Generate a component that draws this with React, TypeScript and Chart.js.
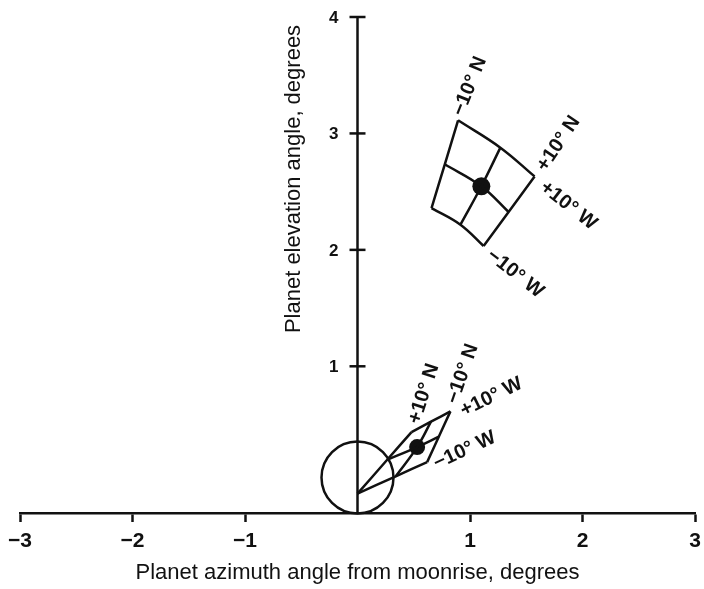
import React, { useEffect, useRef } from "react";
import { Chart, registerables } from "chart.js";

Chart.register(...registerables);

// ---- axes ----
const xRange = [-3, 3];
const yRange = [-0.26, 4];
const xTicks = [-3, -2, -1, 0, 1, 2, 3];
const yTicks = [1, 2, 3, 4];
const xTitle = "Planet azimuth angle from moonrise, degrees";
const yTitle = "Planet elevation angle, degrees";

// ---- moon disc (degrees) ----
const moonCenter = [0, 0.045];
const moonRadius = 0.32;

// ---- grids: rows = N offset (−10°, 0°, +10°), cols = W offset (−10°, 0°, +10°) ----
const upperGridX = [
  [0.658, 0.776, 0.894],
  [0.915, 1.101, 1.27],
  [1.121, 1.343, 1.574],
];
const upperGridY = [
  [2.359, 2.735, 3.113],
  [2.216, 2.546, 2.878],
  [2.033, 2.325, 2.631],
];
const lowerGridX = [
  [0.619, 0.7225, 0.826],
  [0.34, 0.53, 0.653],
  [0.0, 0.264, 0.48],
];
const lowerGridY = [
  [0.177, 0.395, 0.613],
  [0.0555, 0.306, 0.524],
  [-0.094, 0.197, 0.435],
];

// ---- grid labels ----
const labelTexts = ["−10° N", "+10° N", "+10° W", "−10° W", "+10° N", "−10° N", "+10° W", "−10° W"];
const labelX = [0.997, 1.786, 1.875, 1.402, 0.59, 0.935, 1.19, 0.953];
const labelY = [3.405, 2.912, 2.381, 1.796, 0.764, 0.936, 0.735, 0.277];
const labelAngle = [-68, -56, 38, 38, -72, -71, -26, -25];

const INK = "#111";
const FONT = "'Liberation Sans', Arial, Helvetica, sans-serif";
const LW = 2.5;

function gridLines(gx: number[][], gy: number[][]) {
  const lines: { x: number; y: number }[][] = [];
  for (let i = 0; i < 3; i++) lines.push([0, 1, 2].map((j) => ({ x: gx[i][j], y: gy[i][j] })));
  for (let j = 0; j < 3; j++) lines.push([0, 1, 2].map((i) => ({ x: gx[i][j], y: gy[i][j] })));
  return lines;
}

const overlayPlugin = {
  id: "overlay",
  beforeDatasetsDraw(chart: any) {
    const { ctx, chartArea } = chart;
    const xs = chart.scales.x;
    const ys = chart.scales.y;
    const x0 = xs.getPixelForValue(0);
    ctx.save();
    ctx.strokeStyle = INK;
    ctx.fillStyle = INK;
    ctx.lineWidth = LW;
    // vertical axis
    ctx.beginPath();
    ctx.moveTo(x0, chartArea.bottom);
    ctx.lineTo(x0, ys.getPixelForValue(yTicks[yTicks.length - 1]) - 1);
    ctx.stroke();
    // ticks + labels
    ctx.font = `bold 17px ${FONT}`;
    ctx.textAlign = "right";
    ctx.textBaseline = "middle";
    for (const v of yTicks) {
      const py = ys.getPixelForValue(v);
      ctx.beginPath();
      ctx.moveTo(x0 - 8, py);
      ctx.lineTo(x0 + 8, py);
      ctx.stroke();
      ctx.fillText(String(v), x0 - 19, py + 1);
    }
    // axis title
    ctx.save();
    ctx.font = `22px ${FONT}`;
    ctx.textAlign = "center";
    ctx.translate(x0 - 64, chartArea.top + 162);
    ctx.rotate(-Math.PI / 2);
    ctx.fillText(yTitle, 0, 0);
    ctx.restore();
    ctx.restore();
  },
  afterDatasetsDraw(chart: any) {
    const { ctx } = chart;
    const xs = chart.scales.x;
    const ys = chart.scales.y;
    ctx.save();
    ctx.fillStyle = INK;
    ctx.font = `bold 20px ${FONT}`;
    ctx.textAlign = "center";
    ctx.textBaseline = "middle";
    labelTexts.forEach((t, i) => {
      ctx.save();
      ctx.translate(xs.getPixelForValue(labelX[i]), ys.getPixelForValue(labelY[i]));
      ctx.rotate((labelAngle[i] * Math.PI) / 180);
      ctx.fillText(t, 0, 0);
      ctx.restore();
    });
    ctx.restore();
  },
};

export default function App() {
  const ref = useRef<HTMLCanvasElement | null>(null);

  useEffect(() => {
    if (!ref.current) return;
    const lineStyle = {
      showLine: true,
      pointRadius: 0,
      borderColor: INK,
      borderWidth: LW,
      tension: 0.4,
      fill: false,
      clip: false as any,
    };
    const datasets: any[] = [];
    for (const l of gridLines(upperGridX, upperGridY)) datasets.push({ data: l, ...lineStyle });
    for (const l of gridLines(lowerGridX, lowerGridY)) datasets.push({ data: l, ...lineStyle });
    datasets.push({
      data: [
        { x: upperGridX[1][1], y: upperGridY[1][1] },
        { x: lowerGridX[1][1], y: lowerGridY[1][1] },
      ],
      pointRadius: [9, 8],
      backgroundColor: INK,
      borderWidth: 0,
      showLine: false,
      clip: false,
    });
    datasets.push({
      data: [{ x: moonCenter[0], y: moonCenter[1] }],
      pointRadius: (c: any) =>
        c.chart.scales.x.getPixelForValue(moonRadius) - c.chart.scales.x.getPixelForValue(0),
      backgroundColor: "rgba(0,0,0,0)",
      borderColor: INK,
      borderWidth: LW,
      showLine: false,
      clip: false,
    });

    const chart = new Chart(ref.current, {
      type: "scatter",
      data: { datasets },
      options: {
        animation: false,
        responsive: false,
        events: [],
        layout: { padding: { left: 20, right: 7, top: 17, bottom: 0 } },
        plugins: {
          legend: { display: false },
          tooltip: { enabled: false },
        },
        scales: {
          x: {
            type: "linear",
            position: "bottom",
            min: xRange[0],
            max: xRange[1],
            afterBuildTicks: (s: any) => {
              s.ticks = xTicks.map((v) => ({ value: v }));
            },
            afterFit: (s: any) => {
              s.height = 76;
              s.paddingLeft = 0;
              s.paddingRight = 0;
            },
            ticks: {
              autoSkip: false,
              maxRotation: 0,
              padding: 7,
              color: INK,
              font: { family: FONT, size: 21, weight: "bold" },
              callback: (v: any) => (v === 0 ? "" : v < 0 ? "−" + Math.abs(v) : String(v)),
            },
            grid: {
              display: true,
              drawOnChartArea: false,
              drawTicks: true,
              tickLength: 9,
              tickWidth: LW,
              tickColor: (c: any) => (c.tick && c.tick.value === 0 ? "rgba(0,0,0,0)" : INK),
            },
            border: { display: true, color: INK, width: LW },
            title: {
              display: true,
              text: xTitle,
              color: INK,
              font: { family: FONT, size: 22 },
              padding: { top: 0, bottom: 3 },
            },
          },
          y: {
            type: "linear",
            display: false,
            min: yRange[0],
            max: yRange[1],
          },
        },
      },
      plugins: [overlayPlugin],
    } as any);
    return () => chart.destroy();
  }, []);

  return (
    <div style={{ position: "absolute", left: 0, top: 0, width: 704, height: 589, background: "#fff" }}>
      <canvas ref={ref} width={704} height={589} style={{ display: "block" }} />
    </div>
  );
}
